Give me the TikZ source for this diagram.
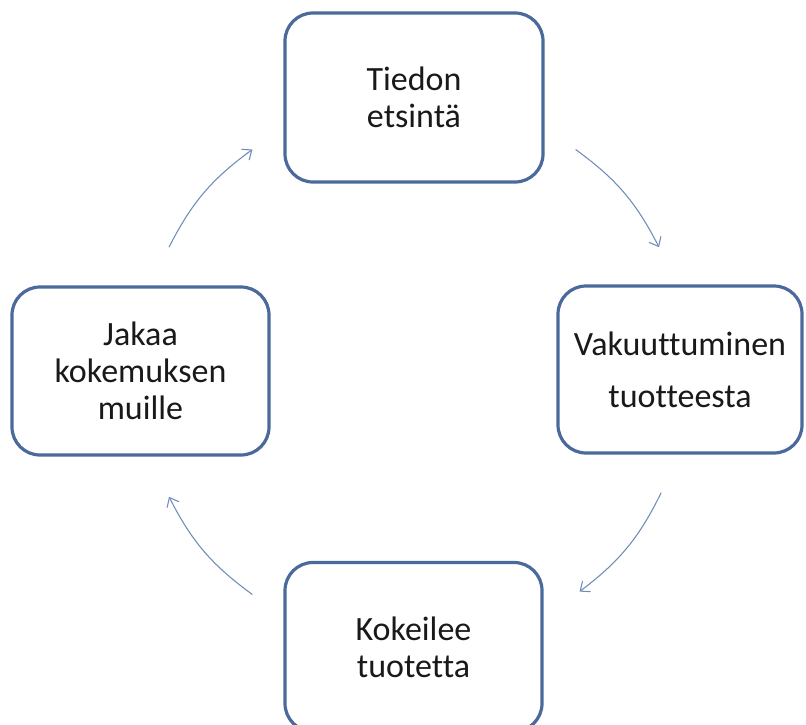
\documentclass[tikz,border=0pt]{standalone}
\usepackage{fontspec}
\usetikzlibrary{arrows.meta}
\newfontfamily\stagefont[Ligatures={NoCommon}]{Carlito}

\definecolor{boxblue}{RGB}{74,106,156}
\definecolor{arrowblue}{RGB}{112,140,184}

\tikzset{every picture/.style={line width=0.75pt}}
\tikzset{
  stagebox/.style={draw=boxblue, line width=2.4pt, rounded corners=21pt, fill=white,
    align=center, inner sep=0pt, text=black!90,
    font={\stagefont\fontsize{25.5pt}{27.75pt}\selectfont}},
  flow/.style={draw=arrowblue, line width=0.8pt, -{Straight Barb[length=6pt,width=10pt]}}
}

\begin{document}
\begin{tikzpicture}[x=0.75pt,y=0.75pt,yscale=-1,xscale=1]
        %set diagram frame: 806 x 724
        \useasboundingbox (0,0) rectangle (806,724);

        %Shape: Rounded Rect (top)
        \node (tiedon) [stagebox, minimum width=193.5pt, minimum height=126.75pt] at (414,97.5) {Tiedon\\etsintä};
        %Shape: Rounded Rect (right)
        \node (vakuutt) [stagebox, minimum width=183pt, minimum height=125.25pt] at (680,369.5) {Vakuuttuminen\\[11.25pt]tuotteesta};
        %Shape: Rounded Rect (bottom)
        \node (kokeilee) [stagebox, minimum width=192.75pt, minimum height=126.75pt] at (413.5,647) {Kokeilee\\tuotetta};
        %Shape: Rounded Rect (left)
        \node (jakaa) [stagebox, minimum width=192.75pt, minimum height=126pt] at (140.5,371) {Jakaa\\kokemuksen\\muille};

        %Arrow ends on the circle round (414,372)
        \coordinate (p1a) at (575.6,149.5);
        \coordinate (p1b) at (659.0,247.2);
        \coordinate (p2a) at (661.2,492.6);
        \coordinate (p2b) at (579.5,591.6);
        \coordinate (p3a) at (252.4,594.5);
        \coordinate (p3b) at (169.0,496.8);
        \coordinate (p4a) at (169.0,247.2);
        \coordinate (p4b) at (252.4,149.5);

        %Curve Lines
        \draw [flow] (p1a) to [bend right=13.5] (p1b);
        \draw [flow] (p2a) to [bend right=13.5] (p2b);
        \draw [flow] (p3a) to [bend right=13.5] (p3b);
        \draw [flow] (p4a) to [bend right=13.5] (p4b);

\end{tikzpicture}
\end{document}
